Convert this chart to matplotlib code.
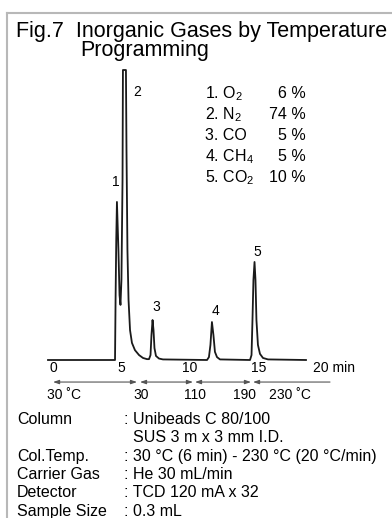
import matplotlib
matplotlib.use("Agg")
import matplotlib.pyplot as plt
from matplotlib.lines import Line2D

plt.rcParams['font.family'] = ['Liberation Sans', 'DejaVu Sans']
plt.rcParams['mathtext.fontset'] = 'custom'
plt.rcParams['mathtext.rm'] = 'Liberation Sans'

# chromatogram trace (minutes, relative signal)
time_min = [0.0, 4.91, 4.95, 5.00, 5.05, 5.16, 5.24, 5.31, 5.38, 5.46, 5.49, 5.71,
            5.75, 5.82, 5.90, 6.01, 6.15, 6.37, 6.67, 6.96, 7.25,
            7.40, 7.51, 7.58, 7.66, 7.73, 7.80, 7.91, 8.13, 8.42,
            11.65, 11.79, 11.90, 12.01, 12.12, 12.23, 12.38, 12.60,
            14.80, 14.91, 14.98, 15.05, 15.13, 15.20, 15.27, 15.38, 15.53, 15.75, 16.12,
            18.90]
signal = [0, 0, 20.7, 41.4, 54.5, 37.9, 22.4, 19.0, 27.6, 62.1, 100, 100,
          72.4, 37.9, 20.7, 10.3, 5.9, 3.4, 1.7, 0.7, 0.3,
          0.3, 1.7, 8.6, 13.8, 10.3, 4.1, 1.4, 0.5, 0.2,
          0.0, 1.0, 5.2, 13.1, 8.6, 2.8, 1.0, 0.2,
          0.0, 1.7, 13.8, 27.6, 33.8, 27.6, 13.8, 5.2, 2.1, 0.7, 0.2,
          0.0]

peak_ids = ["1", "2", "3", "4", "5"]
peak_label_t = [4.98, 6.52, 7.91, 12.3, 15.3]
peak_label_s = [61.4, 92.4, 18.3, 16.9, 37.2]

components = [r"1. O$_{\mathregular{2}}$", r"2. N$_{\mathregular{2}}$", "3. CO",
              r"4. CH$_{\mathregular{4}}$", r"5. CO$_{\mathregular{2}}$"]
percents = ["6 %", "74 %", "5 %", "5 %", "10 %"]

tick_values = [0, 5, 10, 15]
# temperature program arrows (start, end in min) and labels
prog_start = [0.37, 6.74, 10.77, 15.02]
prog_end = [6.52, 10.62, 14.87, 20.66]
temp_labels = ["30 \u02daC", "30", "110", "190", "230 \u02daC"]
temp_label_t = [1.17, 6.8, 10.77, 14.4, 17.7]

cond_names = ["Column", "", "Col.Temp.", "Carrier Gas", "Detector", "Sample Size"]
cond_values = [": Unibeads C 80/100", "  SUS 3 m x 3 mm I.D.",
               ": 30 \u00b0C (6 min) - 230 \u00b0C (20 \u00b0C/min)",
               ": He 30 mL/min", ": TCD 120 mA x 32", ": 0.3 mL"]

W, H = 392, 518
fig = plt.figure(figsize=(W / 100, H / 100), dpi=100)


def px(x, y):
    return x / W, 1 - y / H


# frame
fig.add_artist(Line2D([7 / W, 1], [1 - 13 / H, 1 - 13 / H], transform=fig.transFigure,
                      color="#b8b8b8", lw=1.5))
fig.add_artist(Line2D([7 / W, 7 / W], [0, 1 - 13 / H], transform=fig.transFigure,
                      color="#b8b8b8", lw=1.5))

fig.text(*px(16, 21), "Fig.7  Inorganic Gases by Temperature", fontsize=15.5,
         va="top", ha="left")
fig.text(*px(80, 40), "Programming", fontsize=15.5, va="top", ha="left")

ax = fig.add_axes([48 / W, (H - 360) / H, 273 / W, 290 / H])
ax.set_xlim(0, 20)
ax.set_ylim(0, 100)
ax.axis("off")

ax.plot(time_min, signal, color="#1a1a1a", lw=1.3, clip_on=False)

for lab, t, s in zip(peak_ids, peak_label_t, peak_label_s):
    ax.text(t, s, lab, fontsize=10, ha="center", va="center")

for v in tick_values:
    ax.text(v + 0.4, -2.8, str(v), fontsize=10, ha="center", va="center")
ax.text(19.4, -2.8, "20 min", fontsize=10, ha="left", va="center")

for i, (a, b) in enumerate(zip(prog_start, prog_end)):
    style = "<|-" if i == len(prog_start) - 1 else "<|-|>"
    ax.annotate("", xy=(b, -7.6), xytext=(a, -7.6), annotation_clip=False,
                arrowprops=dict(arrowstyle=style + ",head_length=0.35,head_width=0.12",
                                color="#555555", lw=0.8, shrinkA=0, shrinkB=0))
for lab, t in zip(temp_labels, temp_label_t):
    ax.text(t, -12.0, lab, fontsize=10, ha="center", va="center")

row_y = [98, 119, 140, 161, 182]
for name, pct, y in zip(components, percents, row_y):
    fig.text(*px(205, y), name, fontsize=11.5, ha="left", va="baseline")
    fig.text(*px(306, y), pct, fontsize=11.5, ha="right", va="baseline")

cond_y = [424, 442, 461, 479, 497, 516]
for name, val, y in zip(cond_names, cond_values, cond_y):
    fig.text(*px(17, y), name, fontsize=11.5, ha="left", va="baseline")
    fig.text(*px(124, y), val, fontsize=11.5, ha="left", va="baseline")

fig.savefig("out.png", dpi=100)
